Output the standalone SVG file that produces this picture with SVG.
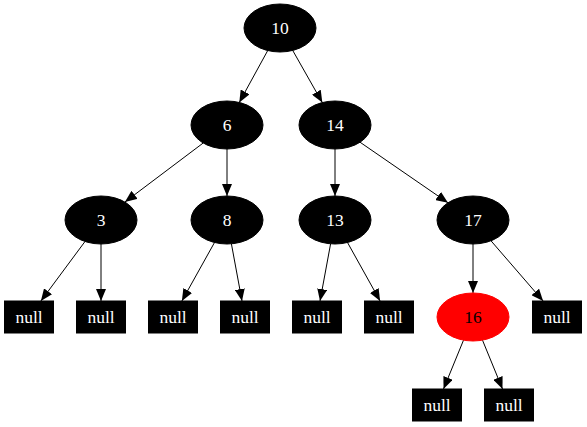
<svg xmlns="http://www.w3.org/2000/svg" width="587" height="427" viewBox="0 0 587 427">
<style>
.n ellipse{fill:#000;stroke:#000}
.r ellipse{fill:#ff0000;stroke:#ff0000}
.b rect{fill:#000;stroke:#000}
text{font-family:'Liberation Serif','DejaVu Serif',serif;font-size:17.5px;text-anchor:middle;fill:#fff}
.r text{fill:#000}
.e line{stroke:#000;stroke-width:1;fill:none;marker-end:url(#ah)}
</style>
<defs>
<marker id="ah" markerUnits="userSpaceOnUse" markerWidth="12" markerHeight="10" refX="12" refY="5" orient="auto">
<path d="M0,0 L12,5 L0,10 z" fill="#000"/>
</marker>
</defs>
<rect width="587" height="427" fill="#fff"/>
<g id="edges" class="e">
<line x1="267.7" y1="50.6" x2="239.3" y2="102.4"/>
<line x1="292.7" y1="50.4" x2="322.3" y2="102.6"/>
<line x1="203.2" y1="143" x2="124.9" y2="202"/>
<line x1="227" y1="149" x2="227" y2="196"/>
<line x1="335" y1="149" x2="335" y2="196"/>
<line x1="360" y1="142.2" x2="448" y2="202.8"/>
<line x1="85" y1="241.5" x2="40.9" y2="301"/>
<line x1="101" y1="244" x2="101" y2="301"/>
<line x1="214.5" y1="242.5" x2="181.9" y2="301"/>
<line x1="231.4" y1="243.8" x2="242" y2="301"/>
<line x1="330.6" y1="243.8" x2="320" y2="301"/>
<line x1="347.5" y1="242.5" x2="380.1" y2="301"/>
<line x1="473" y1="244" x2="473" y2="293"/>
<line x1="491" y1="240.8" x2="543.1" y2="301"/>
<line x1="463.5" y1="340.2" x2="443.5" y2="389"/>
<line x1="482.5" y1="340.2" x2="502.5" y2="389"/>
</g>
<g id="n10" class="n"><ellipse cx="280" cy="28" rx="36" ry="24"/><text x="280" y="34">10</text></g>
<g id="n6" class="n"><ellipse cx="227" cy="125" rx="36" ry="24"/><text x="227" y="131">6</text></g>
<g id="n14" class="n"><ellipse cx="335" cy="125" rx="36" ry="24"/><text x="335" y="131">14</text></g>
<g id="n3" class="n"><ellipse cx="101" cy="220" rx="36" ry="24"/><text x="101" y="226">3</text></g>
<g id="n8" class="n"><ellipse cx="227" cy="220" rx="36" ry="24"/><text x="227" y="226">8</text></g>
<g id="n13" class="n"><ellipse cx="335" cy="220" rx="36" ry="24"/><text x="335" y="226">13</text></g>
<g id="n17" class="n"><ellipse cx="473" cy="220" rx="36" ry="24"/><text x="473" y="226">17</text></g>
<g id="n16" class="r"><ellipse cx="473" cy="317" rx="36" ry="24"/><text x="473" y="323">16</text></g>
<g id="null1" class="b"><rect x="4.5" y="301" width="49" height="32"/><text x="29" y="323">null</text></g>
<g id="null2" class="b"><rect x="76.5" y="301" width="49" height="32"/><text x="101" y="323">null</text></g>
<g id="null3" class="b"><rect x="148.5" y="301" width="49" height="32"/><text x="173" y="323">null</text></g>
<g id="null4" class="b"><rect x="220.5" y="301" width="49" height="32"/><text x="245" y="323">null</text></g>
<g id="null5" class="b"><rect x="292.5" y="301" width="49" height="32"/><text x="317" y="323">null</text></g>
<g id="null6" class="b"><rect x="364.5" y="301" width="49" height="32"/><text x="389" y="323">null</text></g>
<g id="null7" class="b"><rect x="532.5" y="301" width="49" height="32"/><text x="557" y="323">null</text></g>
<g id="null8" class="b"><rect x="412.5" y="389" width="49" height="32"/><text x="437" y="411">null</text></g>
<g id="null9" class="b"><rect x="484.5" y="389" width="49" height="32"/><text x="509" y="411">null</text></g>
</svg>
